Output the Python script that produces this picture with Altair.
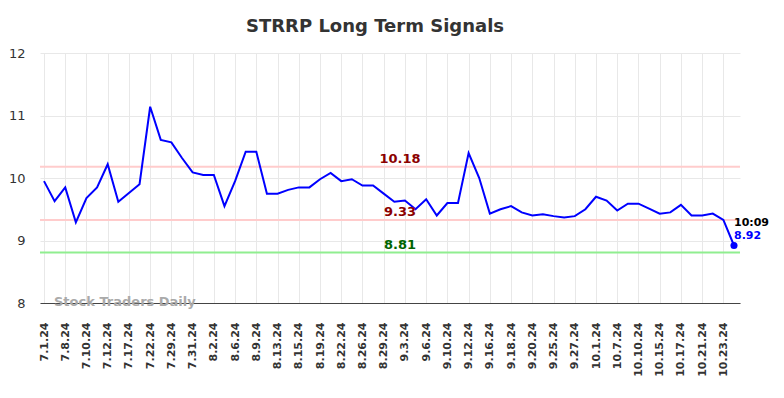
import json
import altair as alt
import pandas as pd

dates = ["7.1.24", "7.5.24", "7.8.24", "7.9.24", "7.10.24", "7.11.24", "7.12.24", "7.16.24",
         "7.17.24", "7.19.24", "7.22.24", "7.26.24", "7.29.24", "7.30.24", "7.31.24", "8.1.24",
         "8.2.24", "8.5.24", "8.6.24", "8.8.24", "8.9.24", "8.12.24", "8.13.24", "8.14.24",
         "8.15.24", "8.16.24", "8.19.24", "8.21.24", "8.22.24", "8.23.24", "8.26.24", "8.28.24",
         "8.29.24", "8.30.24", "9.3.24", "9.4.24", "9.6.24", "9.9.24", "9.10.24", "9.11.24",
         "9.12.24", "9.13.24", "9.16.24", "9.17.24", "9.18.24", "9.19.24", "9.20.24", "9.24.24",
         "9.25.24", "9.26.24", "9.27.24", "9.30.24", "10.1.24", "10.4.24", "10.7.24", "10.9.24",
         "10.10.24", "10.14.24", "10.15.24", "10.16.24", "10.17.24", "10.18.24", "10.21.24",
         "10.22.24", "10.23.24", "10.24.24"]

values = [9.95, 9.63, 9.85, 9.29, 9.68, 9.85, 10.22, 9.62, 9.76, 9.90,
          11.14, 10.61, 10.57, 10.32, 10.09, 10.05, 10.05, 9.55, 9.95, 10.42,
          10.42, 9.75, 9.75, 9.81, 9.85, 9.85, 9.98, 10.08, 9.95, 9.98,
          9.88, 9.88, 9.75, 9.62, 9.64, 9.50, 9.66, 9.40, 9.60, 9.60,
          10.40, 10.00, 9.43, 9.50, 9.55, 9.45, 9.40, 9.42, 9.39, 9.37,
          9.39, 9.50, 9.70, 9.64, 9.48, 9.59, 9.59, 9.51, 9.43, 9.45,
          9.57, 9.40, 9.40, 9.43, 9.33, 8.92]

level_values = [10.18, 9.33, 8.81]
level_labels = ["10.18", "9.33", "8.81"]
level_line_colors = ["#ffcccc", "#ffcccc", "#90ee90"]
level_text_colors = ["#8b0000", "#8b0000", "#006400"]

last_time = "10:09"
title_text = "STRRP Long Term Signals"
watermark = "Stock Traders Daily"

n = len(values)
df = pd.DataFrame({"i": list(range(n)), "date": dates, "v": values})
levels = pd.DataFrame({"v": level_values, "label": level_labels,
                       "lc": level_line_colors, "tc": level_text_colors})
last = df.iloc[[n - 1]].assign(t=last_time, lbl=lambda d: d["v"].map(lambda x: f"{x:.2f}"))

tick_idx = list(range(0, n, 2))
label_expr = f"{json.dumps(dates)}[datum.value]"

xscale = alt.Scale(domain=[-0.377, n - 1 + 0.565], nice=False, zero=False)
yscale = alt.Scale(domain=[8, 12], nice=False, zero=False)

FONT = "DejaVu Sans"

xaxis = alt.Axis(values=tick_idx, tickCount=100, labelExpr=label_expr, labelAngle=-90,
                 labelFont=FONT, labelFontWeight="bold", labelFontSize=11,
                 labelColor="#333333", ticks=False, labelPadding=19, grid=True,
                 gridColor="#e8e8e8", domainColor="#444444", title=None,
                 labelOverlap=False, labelBound=False)
yaxis = alt.Axis(values=[8, 9, 10, 11, 12], ticks=False, domain=False, labelPadding=15,
                 labelFont=FONT, labelFontSize=13, labelColor="#333333",
                 gridColor="#e8e8e8", title=None, format="d")

X = alt.X("i:Q", scale=xscale, axis=xaxis)
Y = alt.Y("v:Q", scale=yscale, axis=yaxis)

line = alt.Chart(df).mark_line(color="#0000ff", strokeWidth=2).encode(x=X, y=Y)

rules = alt.Chart(levels).mark_rule(strokeWidth=2).encode(
    y=alt.Y("v:Q", scale=yscale),
    color=alt.Color("lc:N", scale=None),
)

level_text = alt.Chart(levels).mark_text(
    font=FONT, fontWeight="bold", fontSize=13, align="center", baseline="alphabetic", dy=-3.5
).encode(
    x=alt.value(360),
    y=alt.Y("v:Q", scale=yscale),
    text="label:N",
    color=alt.Color("tc:N", scale=None),
)

dot = alt.Chart(last).mark_circle(size=50, color="#0000ff", opacity=1).encode(
    x=alt.X("i:Q", scale=xscale), y=alt.Y("v:Q", scale=yscale))

time_text = alt.Chart(last).mark_text(
    font=FONT, fontWeight="bold", fontSize=11, align="left", baseline="alphabetic",
    dx=0, dy=-19.5, color="#000000"
).encode(x=alt.X("i:Q", scale=xscale), y=alt.Y("v:Q", scale=yscale), text="t:N")

val_text = alt.Chart(last).mark_text(
    font=FONT, fontWeight="bold", fontSize=11, align="left", baseline="alphabetic",
    dx=0, dy=-6.5, color="#0000ff"
).encode(x=alt.X("i:Q", scale=xscale), y=alt.Y("v:Q", scale=yscale), text="lbl:N")

wm = alt.Chart(pd.DataFrame({"t": [watermark]})).mark_text(
    font=FONT, fontWeight="bold", fontSize=13, align="left", baseline="alphabetic",
    color="#aaaaaa"
).encode(x=alt.value(14), y=alt.value(253), text="t:N")

chart = alt.layer(rules, line, level_text, dot, time_text, val_text, wm).properties(
    width=700, height=250,
    autosize=alt.AutoSizeParams(type="none"),
    padding={"left": 32, "top": 45, "right": 36, "bottom": 82},
    title=alt.TitleParams(title_text, font=FONT, fontSize=18, fontWeight="bold",
                          color="#333333", anchor="middle", dx=-15, offset=11),
).configure_view(stroke=None)

chart.save("out.html", embed_options={"renderer": "svg", "actions": False})
